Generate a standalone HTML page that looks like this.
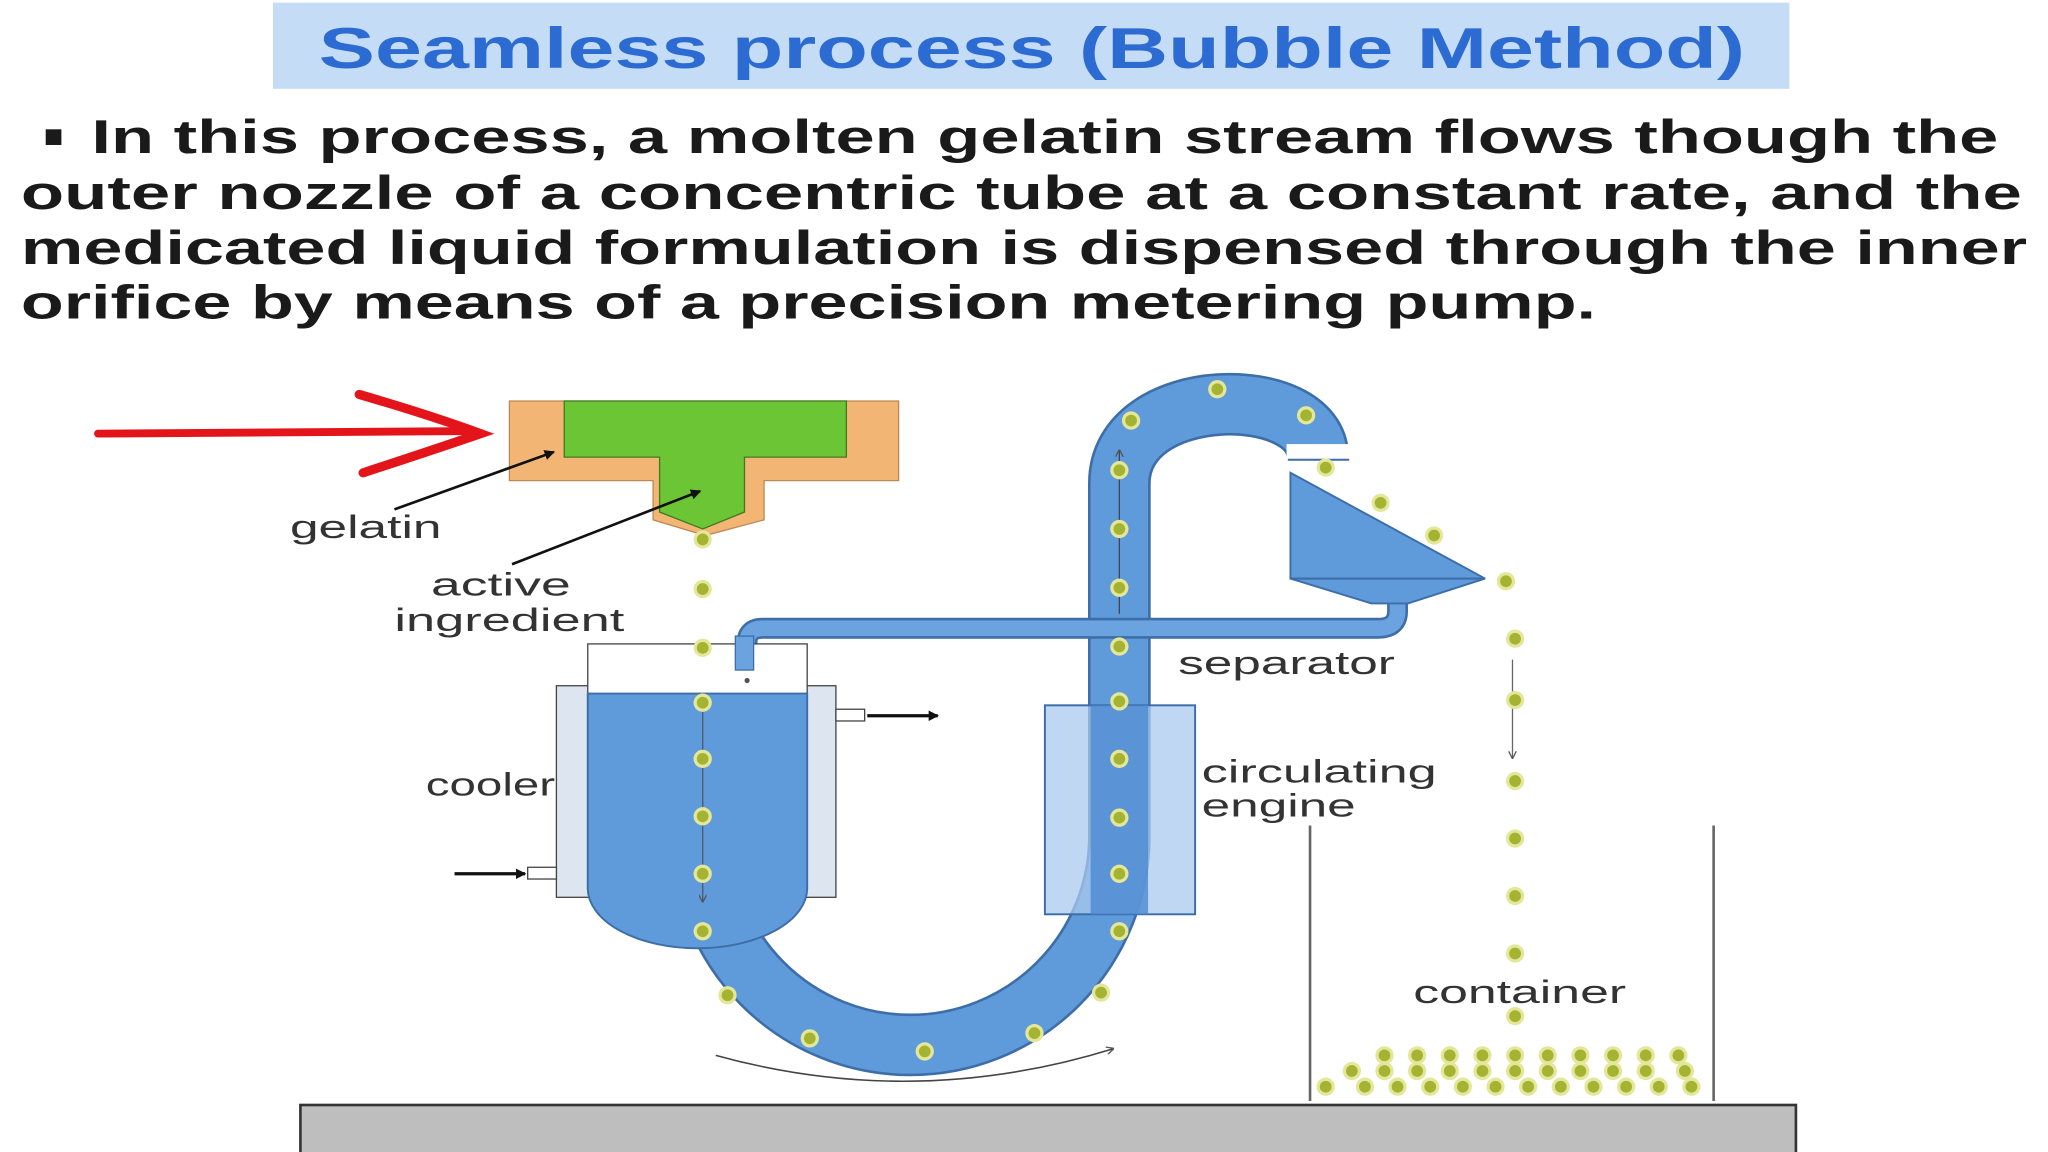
<!DOCTYPE html>
<html><head><meta charset="utf-8"><style>html,body{margin:0;padding:0;background:#fff}svg{display:block}</style></head>
<body>
<svg width="2048" height="1152" viewBox="0 0 1568 882" preserveAspectRatio="none" xmlns="http://www.w3.org/2000/svg" font-family="Liberation Sans, sans-serif">
<defs>
<marker id="ah" markerWidth="8" markerHeight="8" refX="7" refY="4" orient="auto" markerUnits="userSpaceOnUse"><path d="M0,0 L8,4 L0,8 z" fill="#111"/></marker>
<marker id="ahs" markerWidth="6" markerHeight="6" refX="5" refY="3" orient="auto" markerUnits="userSpaceOnUse"><path d="M0,0 L6,3 L0,6" fill="none" stroke="#555"/></marker>
<g id="d"><circle r="7" fill="#e4e79a"/><circle r="4.5" fill="#a4b432"/></g>
</defs>
<rect x="209" y="2" width="1161" height="66" fill="#c5dcf6"/>
<text x="790" y="52" text-anchor="middle" font-size="44" font-weight="bold" fill="#2c6bd2" textLength="1092" lengthAdjust="spacingAndGlyphs">Seamless process (Bubble Method)</text>
<g font-size="36" font-weight="bold" fill="#1a1a1a">
<rect x="35" y="99" width="12" height="12" fill="#1a1a1a"/>
<text x="70" y="117" textLength="1460" lengthAdjust="spacingAndGlyphs">In this process, a molten gelatin stream flows though the</text>
<text x="16" y="160" textLength="1532" lengthAdjust="spacingAndGlyphs">outer nozzle of a concentric tube at a constant rate, and the</text>
<text x="16" y="202" textLength="1536" lengthAdjust="spacingAndGlyphs">medicated liquid formulation is dispensed through the inner</text>
<text x="16" y="244" textLength="1206" lengthAdjust="spacingAndGlyphs">orifice by means of a precision metering pump.</text>
</g>
<path d="M75,332 L362,330" stroke="#e3151a" stroke-width="6" fill="none" stroke-linecap="round"/>
<path d="M275,302 Q330,318 368,332 Q330,345 278,362" stroke="#e3151a" stroke-width="7" fill="none" stroke-linecap="round"/>
<path d="M390,307 H688 V368 H585 V398 L540,410 L500,398 V368 H390 Z" fill="#f3b574" stroke="#b98a55"/>
<path d="M432,307 H648 V350 H570 V392 L538,405 L505,392 V350 H432 Z" fill="#6cc534" stroke="#3f7a22"/>
<rect x="230" y="846" width="1145" height="40" fill="#bebebe" stroke="#333" stroke-width="2"/>
<path d="M1003,632 V843 M1312,632 V843" stroke="#666" stroke-width="2"/>
<path d="M537,690 V640 A160,160 0 0 0 857,640 V370 C857,293 1009,293 1009,350" fill="none" stroke="#3d6ea8" stroke-width="48"/>
<path d="M537,690 V640 A160,160 0 0 0 857,640 V370 C857,293 1009,293 1009,350" fill="none" stroke="#5f9bdb" stroke-width="44"/>
<rect x="985" y="340" width="50" height="12" fill="#fff"/>
<path d="M986,352 H1033" stroke="#3d6ea8" stroke-width="1.5"/>
<path d="M572,512 V492 Q572,481 584,481 H1055 Q1070,481 1070,468 V455" fill="none" stroke="#3d6ea8" stroke-width="16"/>
<path d="M572,512 V492 Q572,481 584,481 H1055 Q1070,481 1070,468 V455" fill="none" stroke="#6aa3e0" stroke-width="12"/>
<polygon points="988,362 988,443 1137,443" fill="#5f9bdb" stroke="#3d6ea8" stroke-width="1.5"/>
<polygon points="988,443 1137,443 1078,462 1050,462" fill="#5f9bdb" stroke="#3d6ea8" stroke-width="1.5"/>
<rect x="426" y="525" width="26" height="162" fill="#dde5f0" stroke="#444"/>
<rect x="616" y="525" width="24" height="162" fill="#dde5f0" stroke="#444"/>
<rect x="450" y="493" width="168" height="38" fill="#fff" stroke="#444"/>
<path d="M450,531 H618 V680 A84,46 0 0 1 450,680 Z" fill="#5f9bdb" stroke="#3d6ea8" stroke-width="1.5"/>
<rect x="563" y="487" width="14" height="26" fill="#6aa3e0" stroke="#3d6ea8"/>
<circle cx="572" cy="521" r="2" fill="#555"/>
<rect x="640" y="543" width="22" height="9" fill="#fff" stroke="#444"/>
<rect x="404" y="664" width="22" height="9" fill="#fff" stroke="#444"/>
<path d="M664,548 H718" stroke="#111" stroke-width="2.5" marker-end="url(#ah)"/>
<path d="M348,669 H402" stroke="#111" stroke-width="2.5" marker-end="url(#ah)"/>
<path d="M538,540 V690" stroke="#556" stroke-width="1" marker-end="url(#ahs)"/>
<rect x="800" y="540" width="115" height="160" fill="#a9c9ee" fill-opacity="0.75" stroke="#3d6ea8" stroke-width="1.5"/>
<rect x="835" y="540" width="44" height="160" fill="#4c88d2" fill-opacity="0.8"/>
<path d="M857,470 V345" stroke="#445" stroke-width="1" marker-end="url(#ahs)"/>
<path d="M1158,505 V580" stroke="#666" stroke-width="1" marker-end="url(#ahs)"/>
<path d="M548,808 Q700,850 852,803" stroke="#444" stroke-width="1.2" fill="none" marker-end="url(#ahs)"/>
<g>
<use href="#d" x="538" y="413"/><use href="#d" x="538" y="451"/><use href="#d" x="538" y="496"/><use href="#d" x="538" y="538"/><use href="#d" x="538" y="581"/><use href="#d" x="538" y="625"/><use href="#d" x="538" y="669"/><use href="#d" x="538" y="713"/>
<use href="#d" x="932" y="298"/><use href="#d" x="866" y="322"/><use href="#d" x="1000" y="318"/>
<use href="#d" x="857" y="360"/><use href="#d" x="857" y="405"/><use href="#d" x="857" y="450"/><use href="#d" x="857" y="495"/><use href="#d" x="857" y="537"/><use href="#d" x="857" y="581"/><use href="#d" x="857" y="626"/><use href="#d" x="857" y="669"/><use href="#d" x="857" y="713"/>
<use href="#d" x="843" y="760"/><use href="#d" x="792" y="791"/><use href="#d" x="708" y="805"/><use href="#d" x="620" y="795"/><use href="#d" x="557" y="762"/>
<use href="#d" x="1015" y="358"/><use href="#d" x="1057" y="385"/><use href="#d" x="1098" y="410"/>
<use href="#d" x="1153" y="445"/><use href="#d" x="1160" y="489"/><use href="#d" x="1160" y="536"/><use href="#d" x="1160" y="598"/><use href="#d" x="1160" y="642"/><use href="#d" x="1160" y="686"/><use href="#d" x="1160" y="730"/><use href="#d" x="1160" y="778"/>
</g>
<g>
<use href="#d" x="1060" y="808"/><use href="#d" x="1085" y="808"/><use href="#d" x="1110" y="808"/><use href="#d" x="1135" y="808"/><use href="#d" x="1160" y="808"/><use href="#d" x="1185" y="808"/><use href="#d" x="1210" y="808"/><use href="#d" x="1235" y="808"/><use href="#d" x="1260" y="808"/><use href="#d" x="1285" y="808"/>
<use href="#d" x="1035" y="820"/><use href="#d" x="1060" y="820"/><use href="#d" x="1085" y="820"/><use href="#d" x="1110" y="820"/><use href="#d" x="1135" y="820"/><use href="#d" x="1160" y="820"/><use href="#d" x="1185" y="820"/><use href="#d" x="1210" y="820"/><use href="#d" x="1235" y="820"/><use href="#d" x="1260" y="820"/><use href="#d" x="1290" y="820"/>
<use href="#d" x="1015" y="832"/><use href="#d" x="1045" y="832"/><use href="#d" x="1070" y="832"/><use href="#d" x="1095" y="832"/><use href="#d" x="1120" y="832"/><use href="#d" x="1145" y="832"/><use href="#d" x="1170" y="832"/><use href="#d" x="1195" y="832"/><use href="#d" x="1220" y="832"/><use href="#d" x="1245" y="832"/><use href="#d" x="1270" y="832"/><use href="#d" x="1295" y="832"/>
</g>
<path d="M302,390 L424,346" stroke="#111" stroke-width="2" marker-end="url(#ah)"/>
<path d="M392,432 L536,376" stroke="#111" stroke-width="2" marker-end="url(#ah)"/>
<g font-size="25" fill="#333" lengthAdjust="spacingAndGlyphs">
<text x="222" y="412" textLength="116" lengthAdjust="spacingAndGlyphs">gelatin</text>
<text x="330" y="456" textLength="107" lengthAdjust="spacingAndGlyphs">active</text>
<text x="302" y="483" textLength="176" lengthAdjust="spacingAndGlyphs">ingredient</text>
<text x="326" y="609" textLength="99" lengthAdjust="spacingAndGlyphs">cooler</text>
<text x="902" y="516" textLength="166" lengthAdjust="spacingAndGlyphs">separator</text>
<text x="920" y="599" textLength="180" lengthAdjust="spacingAndGlyphs">circulating</text>
<text x="920" y="625" textLength="118" lengthAdjust="spacingAndGlyphs">engine</text>
<text x="1082" y="768" textLength="163" lengthAdjust="spacingAndGlyphs">container</text>
</g>
</svg>
</body></html>
